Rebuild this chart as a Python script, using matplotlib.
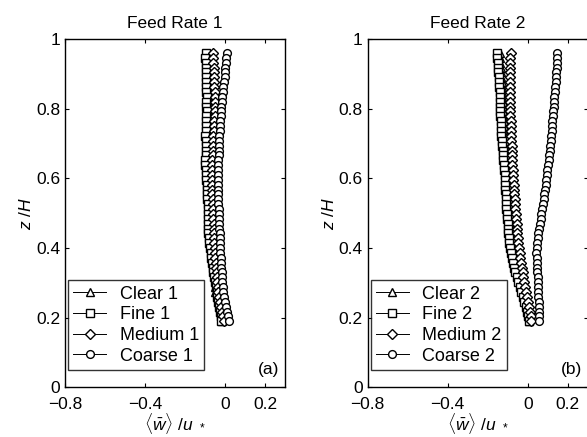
import matplotlib
matplotlib.use("Agg")
import matplotlib.pyplot as plt

plt.rcParams['font.family'] = ['Liberation Sans', 'DejaVu Sans']
plt.rcParams['mathtext.fontset'] = 'custom'
plt.rcParams['mathtext.rm'] = 'Liberation Sans'
plt.rcParams['mathtext.it'] = 'Liberation Sans:italic'

# measurement heights z/H (top to bottom)
z = [0.960, 0.946, 0.932, 0.918, 0.904, 0.890, 0.876, 0.862, 0.848, 0.834,
     0.820, 0.806, 0.792, 0.778, 0.764, 0.750, 0.736, 0.722, 0.708, 0.694,
     0.680, 0.666, 0.652, 0.638, 0.624, 0.610, 0.596, 0.582, 0.568, 0.554,
     0.540, 0.526, 0.512, 0.498, 0.484, 0.470, 0.456, 0.442, 0.428, 0.414,
     0.400, 0.386, 0.372, 0.358, 0.344, 0.330, 0.316, 0.302, 0.288, 0.274,
     0.260, 0.246, 0.232, 0.218, 0.204, 0.190]

# Feed rate 1
clear1 = [-0.095, -0.094, -0.092, -0.091, -0.090, -0.089, -0.088, -0.087, -0.086, -0.085,
          -0.085, -0.084, -0.083, -0.082, -0.082, -0.081, -0.080, -0.080, -0.079, -0.078,
          -0.078, -0.077, -0.077, -0.076, -0.075, -0.075, -0.074, -0.073, -0.072, -0.071,
          -0.070, -0.069, -0.068, -0.068, -0.067, -0.066, -0.064, -0.062, -0.060, -0.058,
          -0.056, -0.054, -0.052, -0.050, -0.048, -0.046, -0.044, -0.046, -0.052, -0.048,
          -0.040, -0.034, -0.028, -0.023, -0.019, -0.016]
fine1 = [-0.097, -0.098, -0.096, -0.095, -0.096, -0.094, -0.095, -0.093, -0.094, -0.092,
         -0.093, -0.094, -0.092, -0.095, -0.096, -0.094, -0.097, -0.099, -0.096, -0.095,
         -0.094, -0.097, -0.100, -0.101, -0.097, -0.095, -0.093, -0.092, -0.090, -0.089,
         -0.088, -0.087, -0.086, -0.085, -0.084, -0.083, -0.084, -0.086, -0.082, -0.078,
         -0.075, -0.072, -0.069, -0.066, -0.062, -0.058, -0.054, -0.050, -0.046, -0.042,
         -0.038, -0.034, -0.030, -0.026, -0.022, -0.019]
medium1 = [-0.060, -0.059, -0.058, -0.057, -0.056, -0.055, -0.054, -0.053, -0.052, -0.051,
           -0.050, -0.050, -0.051, -0.052, -0.053, -0.055, -0.056, -0.058, -0.059, -0.060,
           -0.061, -0.062, -0.063, -0.064, -0.065, -0.066, -0.066, -0.065, -0.064, -0.063,
           -0.062, -0.061, -0.060, -0.059, -0.058, -0.057, -0.056, -0.055, -0.054, -0.053,
           -0.052, -0.050, -0.048, -0.046, -0.044, -0.042, -0.040, -0.038, -0.036, -0.033,
           -0.030, -0.026, -0.021, -0.016, -0.011, -0.006]
coarse1 = [0.008, 0.006, 0.004, 0.002, 0.000, -0.002, -0.005, -0.008, -0.011, -0.014,
           -0.016, -0.018, -0.020, -0.022, -0.024, -0.026, -0.027, -0.028, -0.029, -0.030,
           -0.031, -0.032, -0.033, -0.034, -0.035, -0.035, -0.035, -0.035, -0.034, -0.034,
           -0.033, -0.033, -0.032, -0.031, -0.030, -0.029, -0.028, -0.027, -0.026, -0.025,
           -0.024, -0.023, -0.022, -0.021, -0.019, -0.017, -0.015, -0.013, -0.011, -0.008,
           -0.004, 0.000, 0.005, 0.011, 0.017, 0.022]

# Feed rate 2
clear2 = [-0.140, -0.139, -0.137, -0.135, -0.134, -0.132, -0.131, -0.129, -0.128, -0.127,
          -0.126, -0.125, -0.124, -0.122, -0.121, -0.119, -0.118, -0.116, -0.115, -0.113,
          -0.112, -0.110, -0.109, -0.107, -0.106, -0.104, -0.103, -0.101, -0.100, -0.098,
          -0.096, -0.095, -0.093, -0.091, -0.089, -0.087, -0.085, -0.082, -0.080, -0.077,
          -0.073, -0.069, -0.065, -0.060, -0.055, -0.050, -0.044, -0.038, -0.032, -0.026,
          -0.020, -0.014, -0.008, -0.003, 0.002, 0.006]
fine2 = [-0.156, -0.153, -0.151, -0.149, -0.147, -0.146, -0.144, -0.143, -0.141, -0.140,
         -0.139, -0.138, -0.137, -0.137, -0.136, -0.135, -0.134, -0.132, -0.130, -0.128,
         -0.126, -0.124, -0.122, -0.120, -0.118, -0.116, -0.115, -0.114, -0.112, -0.110,
         -0.109, -0.108, -0.107, -0.106, -0.104, -0.101, -0.099, -0.097, -0.095, -0.092,
         -0.088, -0.084, -0.079, -0.074, -0.068, -0.062, -0.055, -0.048, -0.041, -0.033,
         -0.026, -0.018, -0.010, -0.003, 0.003, 0.008]
medium2 = [-0.084, -0.087, -0.089, -0.090, -0.091, -0.091, -0.090, -0.090, -0.089, -0.089,
           -0.088, -0.088, -0.087, -0.087, -0.086, -0.085, -0.084, -0.083, -0.082, -0.081,
           -0.080, -0.079, -0.078, -0.077, -0.076, -0.074, -0.073, -0.071, -0.069, -0.067,
           -0.065, -0.063, -0.062, -0.060, -0.058, -0.056, -0.054, -0.052, -0.050, -0.047,
           -0.044, -0.041, -0.038, -0.034, -0.030, -0.026, -0.022, -0.017, -0.013, -0.009,
           -0.005, -0.001, 0.004, 0.009, 0.014, 0.018]
coarse2 = [0.147, 0.146, 0.145, 0.144, 0.142, 0.140, 0.139, 0.137, 0.135, 0.133,
           0.131, 0.129, 0.127, 0.125, 0.123, 0.121, 0.119, 0.117, 0.114, 0.112,
           0.110, 0.107, 0.104, 0.101, 0.098, 0.095, 0.092, 0.089, 0.086, 0.083,
           0.080, 0.076, 0.072, 0.068, 0.064, 0.060, 0.056, 0.053, 0.050, 0.048,
           0.046, 0.040, 0.045, 0.046, 0.047, 0.048, 0.049, 0.050, 0.051, 0.052,
           0.053, 0.054, 0.055, 0.056, 0.057, 0.057]

markers = ['^', 's', 'D', 'o']
names = ['Clear', 'Fine', 'Medium', 'Coarse']
panels = [
    ("Feed Rate 1", [clear1, fine1, medium1, coarse1], "1", "(a)", 0.1107),
    ("Feed Rate 2", [clear2, fine2, medium2, coarse2], "2", "(b)", 0.6264),
]
xticks = [-0.8, -0.4, 0, 0.2]
xticklabels = ['\u22120.8', '\u22120.4', '0', '0.2']
yticks = [0, 0.2, 0.4, 0.6, 0.8, 1]
yticklabels = ['0', '0.2', '0.4', '0.6', '0.8', '1']

fig = plt.figure(figsize=(5.87, 4.37), dpi=100)

for title, series, num, tag, left in panels:
    ax = fig.add_axes([left, 0.1133, 0.3748, 0.7975])
    for vals, mk, nm in zip(series, markers, names):
        ms = 4.8 if mk == 'D' else 5.6
        ax.plot(vals, z, color='black', lw=0.7, marker=mk, ms=ms,
                mfc='white', mec='black', mew=1.0, label=nm + ' ' + num)
    ax.set_xlim(-0.8, 0.3)
    ax.set_ylim(0, 1)
    ax.set_xticks(xticks)
    ax.set_xticklabels(xticklabels)
    ax.set_yticks(yticks)
    ax.set_yticklabels(yticklabels)
    ax.tick_params(direction='in', top=True, right=True, length=3,
                   width=0.8, labelsize=12.5, pad=3.5)
    ax.tick_params(axis='x', pad=7)
    for sp in ax.spines.values():
        sp.set_linewidth(1.0)
    ax.set_title(title, fontsize=12.5, pad=8)
    ax.set_xlabel(r'$\langle\bar{w}\rangle$ /$u$ $_*$', fontsize=12.5, labelpad=-1)
    ax.set_ylabel(r'$z$ /$H$', fontsize=12.5)
    ax.yaxis.set_label_coords(-0.14, 0.5)
    ax.text(0.975, 0.03, tag, transform=ax.transAxes, ha='right', va='bottom',
            fontsize=12.5)
    leg = ax.legend(loc='lower left', bbox_to_anchor=(0.014, 0.05),
                    borderaxespad=0, fontsize=13, frameon=True, fancybox=False,
                    handlelength=1.8, handletextpad=0.75, labelspacing=0.2,
                    borderpad=0.3)
    leg.get_frame().set_edgecolor('black')
    leg.get_frame().set_linewidth(1.0)

fig.savefig('out.png', dpi=100)
